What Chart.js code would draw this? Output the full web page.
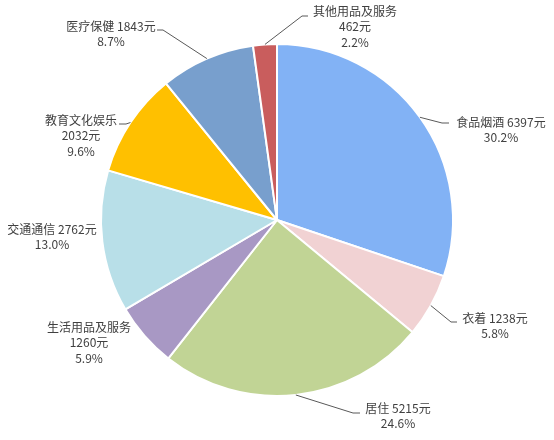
<!DOCTYPE html>
<html>
<head>
<meta charset="utf-8">
<script src="https://cdn.jsdelivr.net/npm/chart.js@4.4.1/dist/chart.umd.min.js"></script>
<style>
    body { margin: 0; background: #ffffff; }
    #wrap { width: 554px; height: 440px; }
</style>
</head>
<body>
<div id="wrap"><canvas id="grafico" width="554" height="440"></canvas></div>
<script>
// dados
const categorias = ['食品烟酒', '衣着', '居住', '生活用品及服务', '交通通信', '教育文化娱乐', '医疗保健', '其他用品及服务'];
const valores = [6397, 1238, 5215, 1260, 2762, 2032, 1843, 462];
const percentuais = ['30.2%', '5.8%', '24.6%', '5.9%', '13.0%', '9.6%', '8.7%', '2.2%'];
const cores = ['#82b2f5', '#f1d2d3', '#c1d495', '#a898c4', '#b8dfe8', '#ffc000', '#789fcd', '#c95d5d'];

// posição dos rótulos (centro do texto, primeira linha) e linhas de chamada
const rotulos = [
    { x: 501, y: 122, quebra: false, cotovelo: [442, 123], fim: [449, 123] },
    { x: 495, y: 318, quebra: false, cotovelo: [451, 322], fim: [457, 322] },
    { x: 398, y: 408, quebra: false, cotovelo: [353, 413], fim: [360, 413] },
    { x: 89, y: 327, quebra: true, cotovelo: null, fim: null },
    { x: 52, y: 229, quebra: false, cotovelo: null, fim: null },
    { x: 81, y: 120, quebra: true, cotovelo: [126, 124], fim: [119, 124] },
    { x: 111, y: 26, quebra: false, cotovelo: [163, 30], fim: [157, 30] },
    { x: 355, y: 11, quebra: true, cotovelo: [302, 16], fim: [308, 16] }
];

const pluginRotulos = {
    id: 'rotulos',
    afterDraw(chart) {
        const ctx = chart.ctx;
        const meta = chart.getDatasetMeta(0);
        ctx.save();
        meta.data.forEach((arco, i) => {
            const p = arco.getProps(['x', 'y', 'startAngle', 'endAngle', 'outerRadius'], true);
            const meio = (p.startAngle + p.endAngle) / 2;
            const r = rotulos[i];

            // linha de chamada
            if (r.cotovelo) {
                ctx.beginPath();
                ctx.moveTo(p.x + Math.cos(meio) * p.outerRadius, p.y + Math.sin(meio) * p.outerRadius);
                ctx.lineTo(r.cotovelo[0], r.cotovelo[1]);
                ctx.lineTo(r.fim[0], r.fim[1]);
                ctx.strokeStyle = '#595959';
                ctx.lineWidth = 1;
                ctx.stroke();
            }

            // texto
            let linhas;
            if (r.quebra) {
                linhas = [categorias[i], valores[i] + '元', percentuais[i]];
            } else {
                linhas = [categorias[i] + ' ' + valores[i] + '元', percentuais[i]];
            }
            ctx.fillStyle = '#404040';
            ctx.font = '12px "Noto Sans CJK SC", "Noto Sans", sans-serif';
            ctx.textAlign = 'center';
            ctx.textBaseline = 'middle';
            linhas.forEach((t, k) => {
                ctx.fillText(t, r.x, r.y + k * 15.5);
            });
        });
        ctx.restore();
    }
};

const ctxPizza = document.getElementById('grafico').getContext('2d');
const graficoPizza = new Chart(ctxPizza, {
    type: 'pie',
    data: {
        labels: categorias,
        datasets: [{
            data: valores,
            backgroundColor: cores,
            borderColor: '#ffffff',
            borderWidth: 2
        }]
    },
    options: {
        responsive: false,
        animation: false,
        layout: {
            padding: { top: 43, bottom: 43, left: 0, right: 0 }
        },
        plugins: {
            legend: { display: false },
            tooltip: { enabled: false }
        }
    },
    plugins: [pluginRotulos]
});
</script>
</body>
</html>
